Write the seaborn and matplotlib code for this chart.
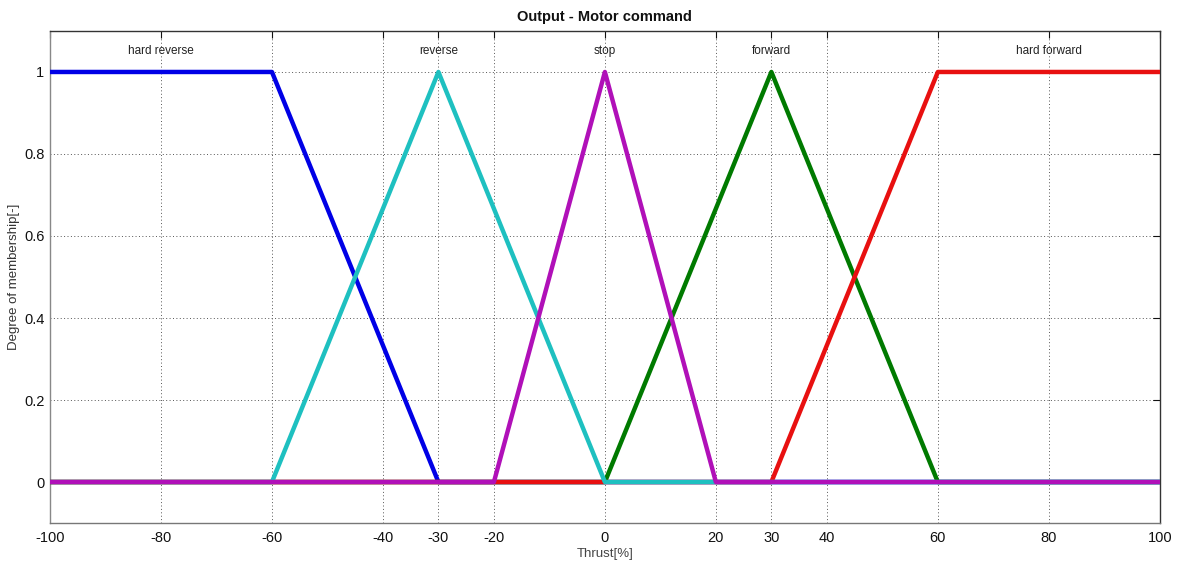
import matplotlib
matplotlib.use("Agg")
import matplotlib.pyplot as plt
import seaborn as sns
import pandas as pd

sns.set_theme(style="white")
plt.rcParams['font.family'] = ['Liberation Sans', 'DejaVu Sans']

# Membership functions (breakpoints over the full universe)
hard_reverse_x = [-100, -60, -30, 100]
hard_reverse_y = [1, 1, 0, 0]
forward_x = [-100, 0, 30, 60, 100]
forward_y = [0, 0, 1, 0, 0]
hard_forward_x = [-100, 30, 60, 100]
hard_forward_y = [0, 0, 1, 1]
reverse_x = [-100, -60, -30, 0, 100]
reverse_y = [0, 0, 1, 0, 0]
stop_x = [-100, -20, 0, 20, 100]
stop_y = [0, 0, 1, 0, 0]

label_names = ["hard reverse", "reverse", "stop", "forward", "hard forward"]
label_x = [-80, -30, 0, 30, 80]

xticks = [-100, -80, -60, -40, -30, -20, 0, 20, 30, 40, 60, 80, 100]
yticks = [0, 0.2, 0.4, 0.6, 0.8, 1]

series = [
    (hard_reverse_x, hard_reverse_y, "#0000e6"),
    (forward_x, forward_y, "#007a00"),
    (hard_forward_x, hard_forward_y, "#e81010"),
    (reverse_x, reverse_y, "#1ec0c0"),
    (stop_x, stop_y, "#b010b8"),
]

fig = plt.figure(figsize=(11.87, 5.63), dpi=100)
ax = fig.add_axes([0.0421, 0.071, 0.935, 0.874])

for i, (xs, ys, c) in enumerate(series):
    df = pd.DataFrame({"x": xs, "y": ys})
    sns.lineplot(data=df, x="x", y="y", sort=False, color=c, linewidth=3.2,
                 ax=ax, zorder=3 + i, estimator=None)

for name, lx in zip(label_names, label_x):
    ax.text(lx, 1.05, name, ha="center", va="center", fontsize=8.5, color="#222222")

ax.set_xlim(-100, 100)
ax.set_ylim(-0.1, 1.1)
ax.set_xticks(xticks)
ax.set_xticklabels([str(t) for t in xticks])
ax.set_yticks(yticks)
ax.set_yticklabels(["0", "0.2", "0.4", "0.6", "0.8", "1"])
ax.tick_params(direction="in", top=True, right=True, length=5, width=0.8,
               labelsize=10.5, colors="#111111")
ax.tick_params(axis="x", pad=6)
ax.tick_params(axis="y", pad=4)
ax.grid(True, linestyle=(0, (1, 2.5)), color="#555555", linewidth=0.7)
for s in ax.spines.values():
    s.set_color("#333333")
    s.set_linewidth(1.0)
ax.spines["left"].set_color("#888888")
ax.spines["bottom"].set_color("#777777")

ax.set_xlabel("Thrust[%]", fontsize=9.5, color="#444444", labelpad=2)
ax.set_ylabel("Degree of membership[-]", fontsize=9.5, color="#333333", labelpad=3)
ax.set_title("Output - Motor command", fontsize=10.5, fontweight="bold", color="#111111", pad=7)

fig.savefig("out.png", dpi=100)
